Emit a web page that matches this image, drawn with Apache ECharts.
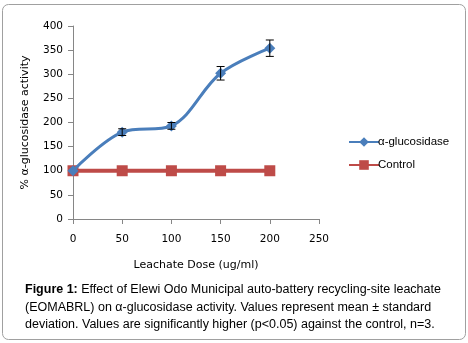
<!DOCTYPE html>
<html>
<head>
<meta charset="utf-8">
<script src="https://cdn.jsdelivr.net/npm/echarts@6/dist/echarts.min.js"></script>
<style>
  html, body { margin: 0; padding: 0; background: #fff; }
  #chart { width: 468px; height: 343px; }
</style>
</head>
<body>
<div id="chart"></div>
<script>
// Leachate doses (ug/ml)
const doses = [0, 50, 100, 150, 200];
// % alpha-glucosidase activity (mean) and standard deviation
const glucosidase = [100, 180, 193, 302, 354];
const glucosidaseSD = [0, 7, 7, 14, 17];
// Control activity
const control = [100, 100, 100, 100, 100];

const xTicks = [0, 50, 100, 150, 200, 250];
const yTicks = [0, 50, 100, 150, 200, 250, 300, 350, 400];

const blue = '#4a7ebb';
const red = '#be4b48';
const tickFont = 'DejaVu Sans, Verdana, sans-serif';

const chart = echarts.init(document.getElementById('chart'), null, { renderer: 'canvas' });

const errData = doses.map((d, i) => [d, glucosidase[i] - glucosidaseSD[i], glucosidase[i] + glucosidaseSD[i]])
  .filter((r, i) => glucosidaseSD[i] > 0);

chart.setOption({
  animation: false,
  backgroundColor: '#fff',
  grid: { left: 73, top: 26, width: 246, height: 193, containLabel: false },
  xAxis: {
    type: 'value', min: xTicks[0], max: xTicks[xTicks.length - 1], interval: 50,
    name: 'Leachate Dose (ug/ml)', nameLocation: 'middle', nameGap: 41,
    nameTextStyle: { fontFamily: tickFont, fontSize: 11, color: '#000' },
    axisLine: { lineStyle: { color: '#868686', width: 1 } },
    axisTick: { inside: false, length: 5, lineStyle: { color: '#868686' } },
    axisLabel: { fontFamily: tickFont, fontSize: 10.5, color: '#000', margin: 15 },
    splitLine: { show: false }
  },
  yAxis: {
    type: 'value', min: yTicks[0], max: yTicks[yTicks.length - 1], interval: 50,
    name: '% α-glucosidase activity', nameLocation: 'middle', nameGap: 42, nameRotate: 90,
    nameTextStyle: { fontFamily: tickFont, fontSize: 11, color: '#000' },
    axisLine: { show: true, lineStyle: { color: '#868686', width: 1 } },
    axisTick: { show: true, inside: false, length: 5, lineStyle: { color: '#868686' } },
    axisLabel: { fontFamily: tickFont, fontSize: 10.5, color: '#000', margin: 10 },
    splitLine: { show: false }
  },
  legend: {
    orient: 'vertical', left: 343, top: 131, itemGap: 11,
    itemWidth: 30, itemHeight: 12,
    textStyle: { fontFamily: 'Liberation Sans, Arial, sans-serif', fontSize: 11.5, color: '#000', padding: [0, 0, 0, -6] },
    data: ['α-glucosidase', 'Control']
  },
  series: [
    {
      name: 'Control', type: 'line', data: doses.map((d, i) => [d, control[i]]),
      symbol: 'rect', symbolSize: 11, z: 2,
      itemStyle: { color: red }, lineStyle: { color: red, width: 4 }
    },
    {
      name: 'α-glucosidase', type: 'line', data: doses.map((d, i) => [d, glucosidase[i]]),
      smooth: 0.35, symbol: 'diamond', symbolSize: 11, z: 3,
      itemStyle: { color: blue }, lineStyle: { color: blue, width: 3 }
    },
    {
      name: 'sd', type: 'custom', z: 4, silent: true,
      data: errData,
      renderItem: function (params, api) {
        const x = api.value(0);
        const lo = api.coord([x, api.value(1)]);
        const hi = api.coord([x, api.value(2)]);
        const w = 4;
        const st = { stroke: '#000', lineWidth: 1 };
        return {
          type: 'group',
          children: [
            { type: 'line', shape: { x1: lo[0], y1: lo[1], x2: hi[0], y2: hi[1] }, style: st },
            { type: 'line', shape: { x1: lo[0] - w, y1: lo[1], x2: lo[0] + w, y2: lo[1] }, style: st },
            { type: 'line', shape: { x1: hi[0] - w, y1: hi[1], x2: hi[0] + w, y2: hi[1] }, style: st }
          ]
        };
      }
    }
  ],
  graphic: [
    {
      type: 'rect', z: -1,
      shape: { x: 2.5, y: 4.5, width: 463, height: 335, r: 6 },
      style: { fill: 'none', stroke: '#a0a0a0', lineWidth: 1 }
    },
    {
      type: 'text', left: 25, top: 281,
      style: {
        text: '{b|Figure 1:} Effect of Elewi Odo Municipal auto-battery recycling-site leachate\n(EOMABRL) on α-glucosidase activity. Values represent mean ± standard\ndeviation. Values are significantly higher (p<0.05) against the control, n=3.',
        fontFamily: 'Liberation Sans, Arial, sans-serif', fontSize: 12.5, lineHeight: 17.5, fill: '#000',
        rich: {
          b: { fontFamily: 'Liberation Sans, Arial, sans-serif', fontSize: 12.5, fontWeight: 'bold', fill: '#000' }
        }
      }
    }
  ]
});
</script>
</body>
</html>
